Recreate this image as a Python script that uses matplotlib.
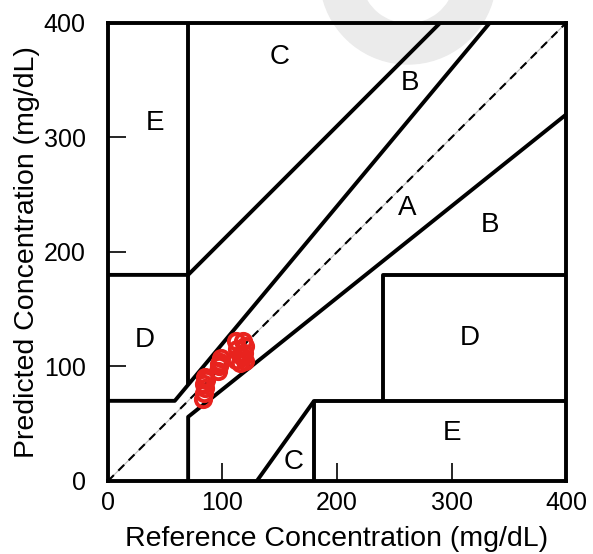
import numpy as np
import matplotlib.pyplot as plt
from matplotlib.patches import Wedge

plt.rcParams['font.family'] = ['Liberation Sans', 'DejaVu Sans']

# 测量点 (参考值, 预测值)
ref_vals = [83, 84, 85, 84, 86, 85,
            96, 97, 98, 99, 97,
            112, 118, 120, 113, 115, 118, 112, 120, 115, 119]
pred_vals = [72, 77, 81, 85, 88, 91,
             96, 100, 104, 107, 102,
             122, 122, 118, 115, 110, 108, 106, 105, 103, 112]

# 区域标签
zone_names = ["C", "B", "E", "A", "B", "D", "D", "E", "C"]
zone_x = [150, 264, 41, 261, 334, 32, 316, 300, 162]
zone_y = [370, 348, 313, 238, 224, 123, 125, 42, 17]

# 分界线 (x 列表, y 列表)
grid_lines = [
    ([0, 400], [0, 400]),
    ([0, 58.33, 333.3], [70, 70, 400]),        # A 上
    ([70, 70, 400], [0, 56, 320]),             # A 下
    ([0, 70, 290], [180, 180, 400]),           # C 上
    ([70, 70], [84, 400]),                     # E 左
    ([130, 180], [0, 70]),                     # C 下
    ([180, 180, 400], [0, 70, 70]),            # E 右
    ([240, 240, 400], [70, 180, 180]),         # D 右
]

fig = plt.figure(figsize=(5.93, 5.54), dpi=100)

# 水印
wm = Wedge((408, 554 + 24), 88, 192, 348, width=40, color='#ebebeb',
           transform=None, zorder=-5)
fig.add_artist(wm)

ax = fig.add_axes([0.1821, 0.1318, 0.7724, 0.8267])
ax.set_facecolor('none')

for i, (gx, gy) in enumerate(grid_lines):
    if i == 0:
        ax.plot(gx, gy, color='#bbbbbb', lw=0.8, zorder=1)
        ax.plot(gx, gy, color='black', lw=1.5, linestyle=(0, (4, 3)), zorder=1)
    else:
        ax.plot(gx, gy, color='black', lw=2.8, solid_capstyle='butt', zorder=2)

ax.plot(ref_vals, pred_vals, 'o', mfc='none', mec='#e8231e', mew=2.8, ms=11, zorder=3)

for t, x, y in zip(zone_names, zone_x, zone_y):
    ax.text(x, y, t, fontsize=20, ha='center', va='center')

ax.set_xlim(0, 400)
ax.set_ylim(0, 400)
ax.set_xticks([0, 100, 200, 300, 400])
ax.set_yticks([0, 100, 200, 300, 400])
ax.tick_params(direction='in', length=13, width=1.2, labelsize=18)
ax.tick_params(axis='x', pad=7)
ax.tick_params(axis='y', pad=16)
for s in ax.spines.values():
    s.set_linewidth(2.8)

ax.set_xlabel("Reference Concentration (mg/dL)", fontsize=20.5, labelpad=8)
ax.set_ylabel("Predicted Concentration (mg/dL)", fontsize=20.5, labelpad=3)

fig.savefig("out.png", dpi=100)
